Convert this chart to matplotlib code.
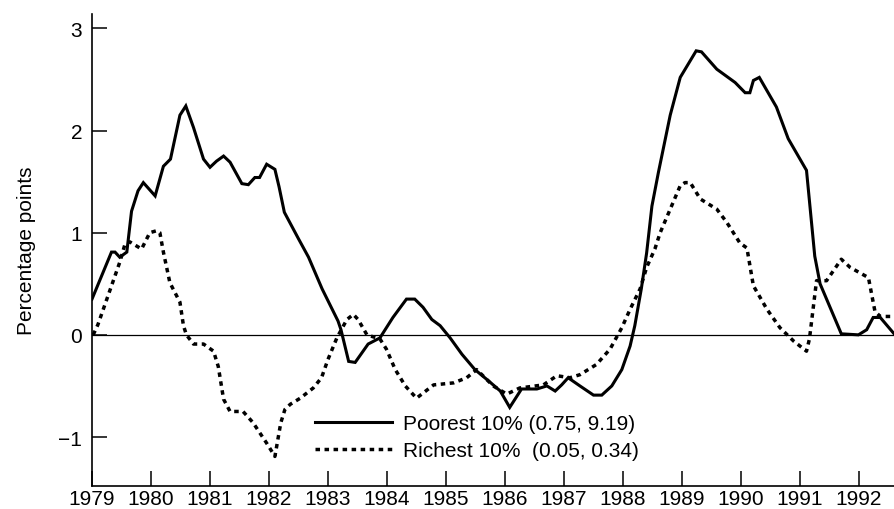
import numpy as np
import matplotlib.pyplot as plt

plt.rcParams['font.family'] = ['Liberation Sans', 'DejaVu Sans']

# poorest decile: (year, percentage points)
poor_year = [1979.00, 1979.33, 1979.39, 1979.47, 1979.59, 1979.67, 1979.78, 1979.87,
             1980.07, 1980.21, 1980.33, 1980.49, 1980.59, 1980.72, 1980.89, 1981.00,
             1981.11, 1981.23, 1981.34, 1981.54, 1981.65, 1981.76, 1981.84, 1981.96,
             1982.10, 1982.17, 1982.26, 1982.50, 1982.67, 1982.90, 1983.17, 1983.22,
             1983.35, 1983.46, 1983.68, 1983.88, 1984.10, 1984.33, 1984.47, 1984.61,
             1984.76, 1984.90, 1985.07, 1985.27, 1985.49, 1985.72, 1985.92, 1986.08,
             1986.28, 1986.39, 1986.54, 1986.71, 1986.85, 1986.96, 1987.07, 1987.27,
             1987.50, 1987.64, 1987.81, 1987.98, 1988.12, 1988.20, 1988.31, 1988.40,
             1988.49, 1988.60, 1988.80, 1988.97, 1989.24, 1989.33, 1989.59, 1989.90,
             1990.07, 1990.15, 1990.21, 1990.31, 1990.60, 1990.80, 1991.11, 1991.25,
             1991.34, 1991.70, 1991.99, 1992.13, 1992.24, 1992.36, 1992.61]
poor_val = [0.35, 0.81, 0.81, 0.76, 0.81, 1.21, 1.41, 1.49,
            1.36, 1.65, 1.72, 2.15, 2.24, 2.03, 1.72, 1.64,
            1.70, 1.75, 1.69, 1.48, 1.47, 1.54, 1.54, 1.67,
            1.62, 1.45, 1.20, 0.94, 0.76, 0.45, 0.135, 0.05,
            -0.26, -0.27, -0.09, -0.03, 0.17, 0.35, 0.35, 0.27,
            0.15, 0.09, -0.03, -0.19, -0.34, -0.45, -0.55, -0.71,
            -0.53, -0.53, -0.53, -0.50, -0.55, -0.49, -0.42, -0.50,
            -0.59, -0.59, -0.50, -0.34, -0.11, 0.09, 0.45, 0.80,
            1.26, 1.59, 2.15, 2.52, 2.78, 2.77, 2.60, 2.47,
            2.37, 2.37, 2.49, 2.52, 2.23, 1.92, 1.61, 0.77,
            0.50, 0.01, 0.00, 0.05, 0.17, 0.17, 0.00]

# richest decile
rich_year = [1979.02, 1979.10, 1979.47, 1979.56, 1979.64, 1979.84, 1979.98, 1980.10,
             1980.15, 1980.21, 1980.32, 1980.49, 1980.55, 1980.60, 1980.72, 1980.89,
             1981.06, 1981.14, 1981.23, 1981.34, 1981.56, 1981.73, 1981.96, 1982.10,
             1982.20, 1982.27, 1982.36, 1982.53, 1982.75, 1982.89, 1983.00, 1983.15,
             1983.32, 1983.43, 1983.51, 1983.66, 1983.88, 1983.99, 1984.14, 1984.31,
             1984.50, 1984.79, 1985.13, 1985.35, 1985.52, 1985.80, 1986.03, 1986.25,
             1986.65, 1986.88, 1987.10, 1987.27, 1987.55, 1987.78, 1987.98, 1988.12,
             1988.29, 1988.40, 1988.54, 1988.63, 1988.80, 1988.97, 1989.05, 1989.14,
             1989.31, 1989.59, 1989.76, 1989.98, 1990.10, 1990.18, 1990.21, 1990.44,
             1990.66, 1990.89, 1991.11, 1991.16, 1991.28, 1991.45, 1991.70, 1991.85,
             1992.16, 1992.27, 1992.36, 1992.61]
rich_val = [0.00, 0.10, 0.71, 0.89, 0.91, 0.84, 1.00, 1.02,
            1.00, 0.81, 0.51, 0.32, 0.09, 0.00, -0.09, -0.09,
            -0.16, -0.31, -0.63, -0.75, -0.75, -0.86, -1.06, -1.19,
            -0.86, -0.73, -0.68, -0.62, -0.52, -0.42, -0.24, -0.03,
            0.15, 0.20, 0.15, 0.00, -0.04, -0.14, -0.34, -0.50,
            -0.62, -0.49, -0.47, -0.42, -0.34, -0.50, -0.58, -0.52,
            -0.49, -0.40, -0.42, -0.39, -0.29, -0.14, 0.07, 0.25,
            0.45, 0.66, 0.84, 1.00, 1.23, 1.46, 1.49, 1.49,
            1.33, 1.23, 1.10, 0.90, 0.85, 0.58, 0.48, 0.25,
            0.07, -0.06, -0.16, -0.04, 0.53, 0.53, 0.74, 0.66,
            0.56, 0.23, 0.18, 0.18]

years = np.arange(1979, 1993)
yticks = [-1, 0, 1, 2, 3]

fig = plt.figure(figsize=(8.95, 5.10), dpi=100)
ax = fig.add_axes([0.1028, 0.045, 0.8972, 0.9255])

ax.axhline(0, color='black', lw=0.9, zorder=1)
ax.plot(rich_year, rich_val, color='black', lw=2.5, linestyle=(0, (1.3, 1.3)),
        label='Richest 10%  (0.05, 0.34)', zorder=2)
ax.plot(poor_year, poor_val, color='black', lw=2.2, solid_joinstyle='miter',
        label='Poorest 10% (0.75, 9.19)', zorder=3)

ax.set_xlim(1979, 1992.61)
ax.set_ylim(-1.48, 3.14)
ax.set_xticks(years)
ax.set_yticks(yticks)
ax.set_yticklabels(['\u22121', '0', '1', '2', '3'])
ax.tick_params(direction='in', length=10.5, width=1.1, labelsize=15)
ax.tick_params(axis='x', pad=2)
ax.tick_params(axis='y', pad=7)

for side in ('top', 'right'):
    ax.spines[side].set_visible(False)
for side in ('left', 'bottom'):
    ax.spines[side].set_linewidth(1.2)

ax.set_ylabel('Percentage points', fontsize=15, labelpad=16)

handles, labels = ax.get_legend_handles_labels()
ax.legend(handles[::-1], labels[::-1], loc='upper left', bbox_to_anchor=(0.278, 0.152),
          frameon=False, fontsize=15, handlelength=3.7, handletextpad=0.5,
          labelspacing=0.38, borderpad=0, borderaxespad=0)

plt.savefig('out.png', dpi=100)
